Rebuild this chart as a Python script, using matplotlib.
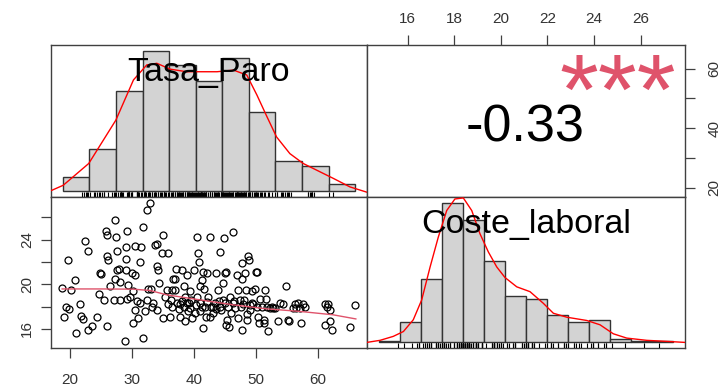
import numpy as np
import matplotlib.pyplot as plt

plt.rcParams['font.family'] = ['Liberation Sans', 'DejaVu Sans']

# scatter data (Tasa_Paro, Coste_laboral)
tasa = [18.7, 19.0, 19.6, 19.8, 20.2, 20.8, 21.0, 21.5, 21.8, 22.1, 22.4, 22.8, 22.8, 23.5, 24.3,
        24.8, 24.7, 25.4, 25.7, 25.9, 26.0, 26.1, 26.0, 26.4, 27.0, 27.2, 27.4, 27.2, 27.5, 27.5,
        27.8, 28.1, 28.1, 28.9, 29.0, 29.0, 29.1, 29.2, 29.4, 29.0, 29.7, 29.9, 30.2, 30.4, 30.5,
        30.5, 30.2, 30.7, 31.0, 31.2, 31.3, 31.5, 31.8, 31.8, 32.1, 32.4, 32.4, 32.6, 32.9, 33.0,
        33.2, 33.4, 33.7, 34.0, 34.0, 34.2, 34.0, 34.4, 34.8, 34.9, 35.0, 35.3, 35.6, 35.8, 35.8,
        36.1, 36.2, 36.4, 36.6, 36.9, 37.1, 36.9, 37.2, 37.7, 37.7, 38.0, 38.3, 38.3, 38.5, 38.8,
        38.8, 39.1, 39.3, 39.3, 39.6, 39.9, 40.1, 40.4, 40.5, 40.7, 40.8, 41.0, 41.0, 41.2, 41.2,
        41.4, 41.5, 41.6, 41.8, 41.9, 42.0, 42.3, 42.6, 42.6, 42.7, 43.1, 43.1, 43.4, 43.6, 43.9,
        44.1, 44.2, 44.4, 44.7, 44.7, 44.8, 45.0, 45.1, 45.2, 45.3, 45.5, 45.7, 45.8, 46.0, 46.3,
        46.3, 46.6, 46.9, 47.0, 47.1, 47.4, 47.7, 47.7, 47.8, 47.9, 48.2, 48.4, 48.5, 48.6, 48.7,
        48.9, 49.0, 49.3, 49.4, 49.5, 49.8, 50.0, 50.1, 50.2, 50.3, 50.5, 50.6, 50.9, 51.2, 51.3,
        51.4, 51.6, 51.7, 52.0, 52.2, 52.5, 52.8, 53.0, 53.6, 53.8, 54.4, 54.9, 55.2, 55.3, 56.0,
        56.3, 56.5, 56.8, 57.1, 57.3, 57.6, 57.9, 61.1, 61.4, 61.2, 61.6, 61.9, 62.2, 61.9, 65.1,
        65.9, 36.5, 37.5, 38.0, 39.5, 40.3, 42.0, 43.5, 44.0, 45.0, 46.5, 47.5, 48.0, 49.0, 39.0,
        38.5, 41.0, 25.0, 19.4]
coste = [19.7, 17.1, 22.2, 17.8, 19.5, 20.4, 15.6, 18.2, 17.2, 16.9, 23.9, 23.0, 15.9, 16.3, 17.1,
         21.0, 19.1, 18.6, 24.8, 24.4, 22.5, 22.2, 16.3, 19.8, 18.6, 25.7, 24.2, 20.5, 23.0, 21.3,
         21.4, 20.2, 18.6, 14.9, 22.3, 21.3, 18.7, 24.8, 19.9, 23.3, 18.9, 21.0, 19.4, 17.7, 23.4,
         20.8, 16.5, 18.5, 17.0, 22.0, 18.3, 23.3, 25.1, 15.2, 17.6, 26.6, 18.6, 19.6, 27.3, 19.6,
         18.0, 18.3, 23.5, 21.6, 23.6, 21.3, 17.7, 20.1, 22.8, 24.4, 17.0, 18.9, 19.5, 22.8, 18.2,
         17.1, 18.6, 19.5, 20.5, 20.5, 21.4, 19.5, 18.3, 17.1, 18.2, 21.3, 19.8, 18.0, 16.7, 20.8,
         18.3, 18.3, 19.4, 17.9, 17.0, 21.3, 17.4, 24.2, 18.9, 22.8, 22.0, 18.3, 19.8, 20.4, 18.0,
         16.1, 21.1, 19.6, 18.0, 17.1, 21.0, 18.9, 24.2, 17.1, 18.0, 18.0, 17.4, 18.3, 21.0, 19.5,
         22.9, 18.0, 17.7, 20.1, 18.6, 24.1, 21.0, 16.4, 21.1, 16.8, 18.0, 16.2, 18.9, 17.4, 24.7,
         18.3, 17.9, 20.8, 17.0, 19.5, 18.6, 20.5, 15.9, 21.9, 18.2, 21.0, 19.5, 17.3, 16.8, 22.5,
         22.2, 17.7, 19.4, 18.3, 18.2, 19.6, 21.1, 21.1, 18.0, 17.1, 16.5, 18.7, 18.0, 16.8, 16.5,
         19.5, 18.7, 18.0, 15.8, 17.9, 18.0, 17.9, 17.9, 16.7, 18.3, 18.2, 19.8, 16.8, 16.7, 17.9,
         18.2, 17.9, 18.3, 17.9, 16.5, 18.2, 18.0, 18.2, 18.0, 16.4, 18.2, 16.7, 15.9, 17.7, 16.2,
         18.1, 18.0, 17.8, 18.5, 18.6, 18.1, 18.4, 17.8, 18.5, 18.3, 18.5, 18.0, 18.6, 18.1, 17.6,
         18.9, 17.6, 20.9, 18.0]

# histogram bins and counts
tasa_breaks = [15, 20, 25, 30, 35, 40, 45, 50, 55, 60, 65, 70]
tasa_counts = [6, 18, 43, 60, 54, 47, 57, 34, 13, 11, 3]
coste_breaks = [14, 15, 16, 17, 18, 19, 20, 21, 22, 23, 24, 25, 26, 27, 28]
coste_counts = [1, 12, 37, 81, 71, 47, 27, 25, 16, 12, 13, 2, 1, 1]

# density curves (count scale)
tasa_dens_x = [12.7, 15.1, 19.9, 25.0, 28.3, 30.8, 32.7, 35.2, 38.3, 40.8, 44.0, 47.1, 49.6,
               51.5, 53.4, 55.2, 57.7, 60.2, 63.4, 65.9, 69.0, 72.1]
tasa_dens_y = [0.2, 2.6, 11.9, 30.4, 47.5, 53.9, 54.6, 52.1, 51.0, 51.0, 51.0, 51.7, 49.6,
               41.1, 31.8, 23.2, 16.1, 11.9, 8.3, 5.5, 1.9, -0.3]
coste_dens_x = [13.43, 14.06, 14.69, 15.17, 15.64, 16.04, 16.44, 16.83, 17.23, 17.62, 18.02,
                18.42, 18.81, 19.21, 19.61, 20.0, 20.56, 21.19, 21.82, 22.3, 22.94, 23.89,
                24.52, 25.15, 25.79, 26.74, 27.69, 28.56]
coste_dens_y = [0, 1.2, 3.5, 6.3, 13.1, 24.6, 43.7, 61.0, 76.4, 83.1, 83.7, 76.4, 63.0, 52.4,
                43.7, 37.6, 32.2, 29.4, 22.7, 16.9, 14.6, 12.7, 10.2, 5.0, 2.5, 1.2, 0.6, 0]

# smoother in the scatter
smooth_x = [18.7, 24.8, 30.2, 32.9, 35.6, 41.0, 46.3, 51.7, 57.1, 62.4, 66.1]
smooth_y = [19.58, 19.58, 19.56, 19.44, 19.05, 18.6, 18.16, 17.8, 17.57, 17.27, 16.9]

r_value = -0.33
stars = '***'
names = ['Tasa_Paro', 'Coste_laboral']

edge = '#404040'
lab = '#333333'

fig = plt.figure(figsize=(7.21, 3.92), dpi=100)
x1, w1 = 51 / 721, 316 / 721
x2, w2 = 367 / 721, 318 / 721
yt, ht = 1 - 197 / 392, 152 / 392
yb, hb = 1 - 348 / 392, 151 / 392

ax_tl = fig.add_axes([x1, yt, w1, ht])
ax_tr = fig.add_axes([x2, yt, w2, ht])
ax_bl = fig.add_axes([x1, yb, w1, hb])
ax_br = fig.add_axes([x2, yb, w2, hb])


def hist_panel(ax, breaks, counts, dx, dy, rug, label):
    b = np.array(breaks, dtype=float)
    span = b[-1] - b[0]
    ax.bar(b[:-1], counts, width=np.diff(b), align='edge', color='#D3D3D3',
           edgecolor='#333333', linewidth=1.0, zorder=2)
    ax.plot(dx, dy, color='red', linewidth=1.0, zorder=3)
    ax.vlines(rug, 0, 0.035, transform=ax.get_xaxis_transform(), color='black',
              linewidth=0.8, zorder=4)
    ax.set_xlim(b[0] - 0.04 * span, b[-1] + 0.04 * span)
    m = max(counts)
    ax.set_ylim(-0.04 * m, 1.04 * m)
    ax.set_xticks([])
    ax.set_yticks([])
    ax.text(0.5, 0.76, label, transform=ax.transAxes, ha='center', va='baseline',
            fontsize=24.5, color='black', zorder=5)


hist_panel(ax_tl, tasa_breaks, tasa_counts, tasa_dens_x, tasa_dens_y, tasa, names[0])
hist_panel(ax_br, coste_breaks, coste_counts, coste_dens_x, coste_dens_y, coste, names[1])

# scatter panel
ax_bl.plot(tasa, coste, 'o', ms=5.0, mfc='none', mec='black', mew=0.9)
ax_bl.plot(smooth_x, smooth_y, color='#DF536B', linewidth=1.0)
ax_bl.set_xlim(16.9, 67.9)
ax_bl.set_ylim(14.3, 27.8)
ax_bl.set_xticks([20, 30, 40, 50, 60])
ax_bl.set_yticks([16, 18, 20, 22, 24, 26])
ax_bl.set_yticklabels(['16', '', '20', '', '24', ''])
ax_bl.tick_params(axis='x', pad=11)
ax_bl.tick_params(axis='y', labelrotation=90, pad=5)
plt.setp(ax_bl.get_yticklabels(), va='center')

# correlation panel
ax_tr.set_xlim(14.26, 27.9)
ax_tr.set_ylim(16.9, 67.9)
ax_tr.xaxis.tick_top()
ax_tr.yaxis.tick_right()
ax_tr.set_xticks([16, 18, 20, 22, 24, 26])
ax_tr.set_yticks([20, 30, 40, 50, 60])
ax_tr.set_yticklabels(['20', '', '40', '', '60'])
ax_tr.tick_params(axis='x', pad=7)
ax_tr.tick_params(axis='y', labelrotation=90, pad=9)
plt.setp(ax_tr.get_yticklabels(), va='center')
ax_tr.text(0.497, 0.364, '{:.2f}'.format(r_value), transform=ax_tr.transAxes,
           ha='center', va='baseline', fontsize=37.5, color='black')
ax_tr.text(0.79, 0.48, stars, transform=ax_tr.transAxes, ha='center', va='baseline',
           fontsize=72, color='#DF536B')

for ax in [ax_tl, ax_tr, ax_bl, ax_br]:
    for s in ax.spines.values():
        s.set_color(edge)
        s.set_linewidth(1.0)
    ax.tick_params(length=7, width=0.9, color=edge, labelsize=11, labelcolor=lab)

fig.savefig('out.png', dpi=100)
